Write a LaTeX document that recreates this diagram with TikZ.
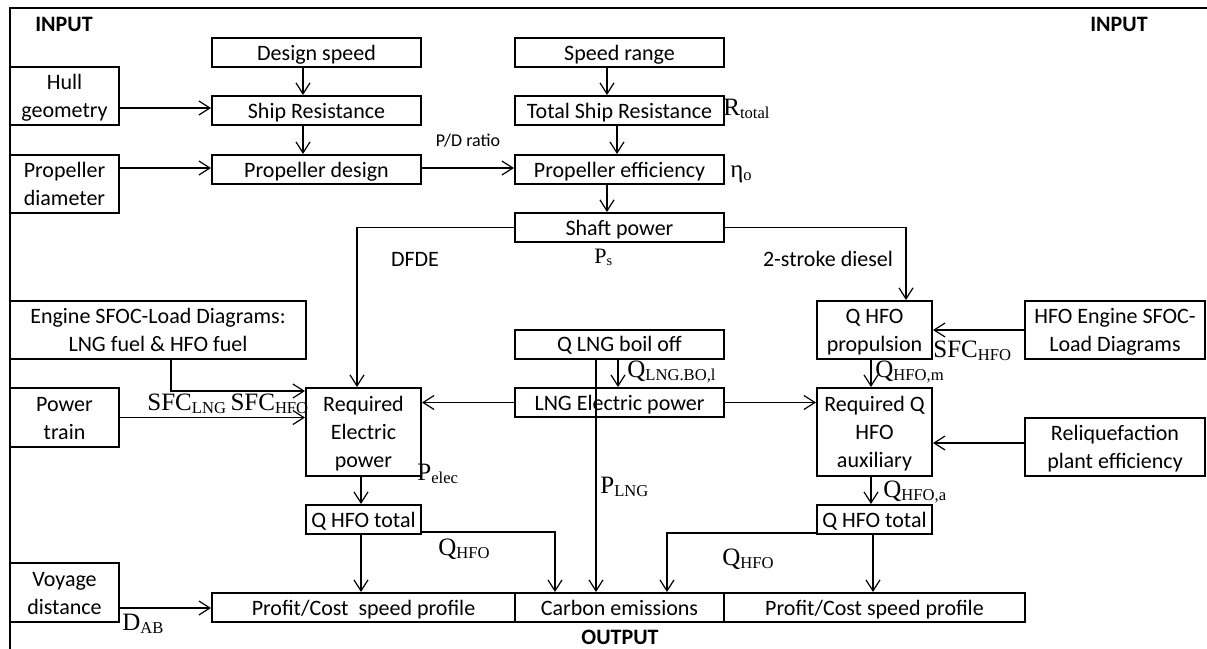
\documentclass[tikz,border=0pt]{standalone}
\usepackage{fontspec}
\setmainfont{Carlito}
\newfontfamily\tms{Liberation Serif}
\usetikzlibrary{arrows.meta,positioning}
% serif label with a lowered subscript
\newcommand{\qlab}[2]{{\tms\fontsize{12.5}{14}\selectfont #1\raisebox{-1.5pt}{\fontsize{8.3}{9}\selectfont #2}}}
\newcommand{\bstrut}{\rule[-3.5pt]{0pt}{14.5pt}}

\begin{document}
\begin{tikzpicture}[x=0.5pt,y=-0.5pt,>={Straight Barb[length=5.5pt,width=7pt]}]
    \tikzset{box/.style 2 args={draw,rectangle,line width=1pt,inner sep=0pt,align=center,
        minimum width={#1*0.5pt},minimum height={#2*0.5pt},font=\fontsize{11}{14}\selectfont,
        execute at begin node=\bstrut,execute at end node=\bstrut},
      lab/.style={anchor=base west,inner sep=0pt},
      txt/.style={inner sep=0pt,font=\fontsize{11}{14}\selectfont},
      con/.style={line width=0.6pt}}
    \useasboundingbox (0,0) rectangle (1207,649);
    \draw[line width=1pt] (10,649) -- (10,8) -- (1207,8);
    \node[txt,font=\fontsize{11}{14}\selectfont\bfseries] (inl) at (64,24) {INPUT};
    \node[txt,font=\fontsize{11}{14}\selectfont\bfseries] (inr) at (1119,24) {INPUT};
    \node[txt,font=\fontsize{11}{14}\selectfont\bfseries] (out) at (620,637) {OUTPUT};
    % left column
    \node[box={109}{58}] (hull) at (64.5,96) {\bstrut Hull\\geometry};
    \node[box={109}{58}] (propdia) at (64.5,184) {\bstrut Propeller\\diameter};
    \node[box={296}{58}] (sfoc) at (158,330) {\bstrut Engine SFOC-Load Diagrams:\\LNG fuel \& HFO fuel};
    \node[box={109}{59}] (power) at (64.5,417.5) {\bstrut Power\\train};
    \node[box={109}{59}] (voyage) at (64.5,592.5) {\bstrut Voyage\\distance};
    % design branch
    \node[box={209}{29}] (dspeed) at (316.5,52.5) {Design speed};
    \node[box={209}{29}] (shipres) at (316.5,110.5) {Ship Resistance};
    \node[box={209}{29}] (propdes) at (316.5,169.5) {Propeller design};
    \node[box={115}{88}] (reqel) at (363.5,432) {\bstrut Required\\Electric\\power};
    \node[box={115}{29}] (qtotl) at (363.5,519.5) {Q HFO total};
    \node[box={303}{29}] (profl) at (363.5,607.5) {Profit/Cost\ \ speed profile};
    % middle column
    \node[box={209}{29}] (srange) at (619.5,52.5) {Speed range};
    \node[box={209}{29}] (totres) at (619.5,110.5) {Total Ship Resistance};
    \node[box={209}{29}] (propeff) at (619.5,169.5) {Propeller efficiency};
    \node[box={209}{29}] (shaft) at (619.5,227.5) {Shaft power};
    \node[box={209}{29}] (qbo) at (619.5,344) {Q LNG boil off};
    \node[box={209}{29}] (lngel) at (619.5,402.5) {LNG Electric power};
    \node[box={209}{29}] (carbon) at (619.5,607.5) {Carbon emissions};
    % right column
    \node[box={115}{58}] (qprop) at (874.5,330) {\bstrut Q HFO\\propulsion};
    \node[box={115}{88}] (reqq) at (874.5,432) {\bstrut Required Q\\HFO\\auxiliary};
    \node[box={115}{29}] (qtotr) at (874.5,519.5) {Q HFO total};
    \node[box={301}{29}] (profr) at (874.5,607.5) {Profit/Cost speed profile};
    \node[box={180}{58}] (hfosfoc) at (1115,330) {\bstrut HFO Engine SFOC-\\Load Diagrams};
    \node[box={180}{58}] (reliq) at (1115,447) {\bstrut Reliquefaction\\plant efficiency};
    % straight connectors
    \path[->,con]
    ([xshift=-6.75pt]dspeed.south) edge ([xshift=-6.75pt]shipres.north)
    ([xshift=-6.75pt]shipres.south) edge ([xshift=-6.75pt]propdes.north)
    ([yshift=-6pt]hull.east) edge ([yshift=1.25pt]shipres.west)
    ([yshift=8pt]propdia.east) edge ([yshift=0.75pt]propdes.west)
    ([yshift=0.75pt]propdes.east) edge ([yshift=0.75pt]propeff.west)
    ([xshift=-6.25pt]srange.south) edge ([xshift=-6.25pt]totres.north)
    ([xshift=-1.25pt]totres.south) edge ([xshift=-1.25pt]propeff.north)
    ([xshift=-6.25pt]propeff.south) edge ([xshift=-6.25pt]shaft.north)
    (hfosfoc.west) edge (qprop.east)
    ([xshift=-1.75pt]qprop.south) edge ([xshift=-1.75pt]reqq.north)
    (lngel.east) edge (reqq.west |- lngel.east)
    (lngel.west) edge (reqel.east |- lngel.west)
    ([xshift=-0.75pt]qbo.south) edge ([xshift=-0.75pt]lngel.north)
    ([xshift=-11.75pt]qbo.south) edge ([xshift=-11.75pt]carbon.north)
    (power.east) edge (reqel.west |- power.east)
    ([xshift=-1.25pt]reqel.south) edge ([xshift=-1.25pt]qtotl.north)
    ([xshift=-1.25pt]qtotl.south) edge ([xshift=-1.25pt]profl.north)
    ([xshift=-1.75pt]reqq.south) edge ([xshift=-1.75pt]qtotr.north)
    ([yshift=2pt]reliq.west) edge ([yshift=-5.5pt]reqq.east)
    ([xshift=-0.75pt]qtotr.south) edge ([xshift=-0.75pt]profr.north)
    ([yshift=-7.75pt]voyage.east) edge ([yshift=-0.25pt]profl.west)
    ;
    % elbow connectors
    \draw[->,con] (shaft.west) -| ([xshift=-3.25pt]reqel.north);
    \draw[->,con] (shaft.east) -| ([xshift=15.75pt]qprop.north);
    \draw[->,con] ([xshift=6.5pt]sfoc.south) |- ([yshift=20.5pt]reqel.west);
    \draw[->,con] ([yshift=-6.25pt]qtotl.east) -| ([xshift=-32.25pt]carbon.north);
    \draw[->,con] ([yshift=-6.75pt]qtotr.west) -| ([xshift=23.75pt]carbon.north);
    % labels
    \node[txt,font=\fontsize{9}{11}\selectfont] (pd) at (468,141) {P/D ratio};
    \node[txt] (dfde) at (415,259) {DFDE};
    \node[txt] (stroke) at (828,259) {2-stroke diesel};
    \node[lab] (rtot) at (723,115) {\qlab{R}{total}};
    \node[lab] (eta) at (730,177) {\qlab{η}{o}};
    \node[lab] (ps) at (594,263) {{\tms\fontsize{11}{13}\selectfont P\raisebox{-1.3pt}{\fontsize{7.2}{8}\selectfont s}}};
    \node[lab] (sfchfo) at (933,357) {\qlab{SFC}{HFO}};
    \node[lab] (qhfom) at (875,377) {\qlab{Q}{HFO,m}};
    \node[lab] (qlngbo) at (627,377) {\qlab{Q}{LNG.BO,l}};
    \node[lab] (sfcboth) at (147,410) {\qlab{SFC}{LNG} \qlab{SFC}{HFO}};
    \node[lab] (pelec) at (417,480) {\qlab{P}{elec}};
    \node[lab] (plng) at (600,493) {\qlab{P}{LNG}};
    \node[lab] (qhfol) at (438,555) {\qlab{Q}{HFO}};
    \node[lab] (qhfor) at (722,565) {\qlab{Q}{HFO}};
    \node[lab] (qhfoa) at (883,497) {\qlab{Q}{HFO,a}};
    \node[lab] (dab) at (122,630) {\qlab{D}{AB}};
\end{tikzpicture}
\end{document}
